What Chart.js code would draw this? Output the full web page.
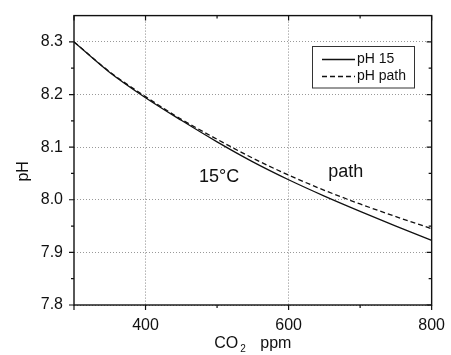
<!DOCTYPE html>
<html><head><meta charset="utf-8">
<script src="https://cdn.jsdelivr.net/npm/chart.js@4/dist/chart.umd.min.js"></script>
<style>html,body{margin:0;padding:0;background:#fff}#wrap{width:451px;height:355px}</style>
</head><body><div id="wrap"><canvas id="c" width="451" height="355"></canvas></div>
<script>
const co2 = [300, 350, 400, 450, 500, 550, 600, 650, 700, 750, 800];
const phT15 = [8.300, 8.242, 8.194, 8.151, 8.110, 8.072, 8.038, 8.007, 7.978, 7.950, 7.923];
const phPath = [8.300, 8.243, 8.196, 8.153, 8.115, 8.079, 8.047, 8.018, 7.992, 7.968, 7.945];
const seriesLabels = ['pH 15', 'pH path'];
const xTicks = [400, 600, 800];
const xMinor = [500, 700];
const yTicks = [7.8, 7.9, 8.0, 8.1, 8.2, 8.3];
const yMinor = [7.85, 7.95, 8.05, 8.15, 8.25];
const notes = [{text: '15°C', x: 503, y: 8.034}, {text: 'path', x: 680, y: 8.044}];
const xTitle = ['CO', '2', 'ppm'];
const yTitle = 'pH';

const FONT = "'Liberation Sans', Arial, sans-serif";
const INK = '#111';

const overlay = {
  id: 'overlay',
  afterDraw(chart) {
    const ctx = chart.ctx, a = chart.chartArea;
    const xs = chart.scales.x, ys = chart.scales.y;
    ctx.save();
    ctx.strokeStyle = INK; ctx.fillStyle = INK;
    // frame
    ctx.lineWidth = 1.4;
    ctx.setLineDash([]);
    ctx.strokeRect(a.left, a.top, a.right - a.left, a.bottom - a.top);
    // ticks
    ctx.lineWidth = 1.2;
    ctx.beginPath();
    const yT = (v, L) => { const p = ys.getPixelForValue(v);
      ctx.moveTo(a.left - L, p); ctx.lineTo(a.left, p);
      ctx.moveTo(a.right - L, p); ctx.lineTo(a.right, p); };
    yTicks.forEach(v => yT(v, 5));
    yMinor.forEach(v => yT(v, 3));
    const xT = (v, L) => { const p = xs.getPixelForValue(v);
      ctx.moveTo(p, a.bottom); ctx.lineTo(p, a.bottom + L);
      ctx.moveTo(p, a.top); ctx.lineTo(p, a.top + L); };
    [300].concat(xTicks).forEach(v => xT(v, 5));
    xMinor.forEach(v => xT(v, 3));
    ctx.stroke();
    // annotations
    ctx.font = '18px ' + FONT;
    ctx.textAlign = 'center'; ctx.textBaseline = 'alphabetic';
    notes.forEach(n => ctx.fillText(n.text, xs.getPixelForValue(n.x), ys.getPixelForValue(n.y)));
    // legend
    ctx.lineWidth = 1;
    ctx.strokeStyle = '#333';
    ctx.strokeRect(312.5, 46.5, 102, 41.5);
    ctx.font = '14px ' + FONT;
    ctx.textAlign = 'left'; ctx.textBaseline = 'middle';
    chart.data.datasets.forEach((ds, i) => {
      const yy = 59.5 + i * 17;
      ctx.strokeStyle = ds.borderColor; ctx.lineWidth = ds.borderWidth;
      ctx.setLineDash(ds.borderDash || []);
      ctx.beginPath(); ctx.moveTo(322, yy); ctx.lineTo(355, yy); ctx.stroke();
      ctx.setLineDash([]);
      ctx.fillText(ds.label, 357, yy);
    });
    // axis titles
    ctx.font = '16px ' + FONT;
    ctx.textAlign = 'left'; ctx.textBaseline = 'alphabetic';
    const w1 = ctx.measureText(xTitle[0]).width;
    ctx.font = '16px ' + FONT;
    const w3 = ctx.measureText(xTitle[2]).width;
    const total = w1 + 22 + w3;
    let x0 = (a.left + a.right) / 2 - total / 2;
    const base = 348;
    ctx.fillText(xTitle[0], x0, base);
    ctx.font = '10px ' + FONT;
    ctx.fillText(xTitle[1], x0 + w1 + 2, base + 4);
    ctx.font = '16px ' + FONT;
    ctx.fillText(xTitle[2], x0 + w1 + 22, base);
    ctx.save();
    ctx.translate(28, (a.top + a.bottom) / 2 + 11);
    ctx.rotate(-Math.PI / 2);
    ctx.textAlign = 'center';
    ctx.fillText(yTitle, 0, 0);
    ctx.restore();
    ctx.restore();
  }
};

new Chart(document.getElementById('c'), {
  type: 'line',
  data: {
    datasets: [
      {label: seriesLabels[0], data: co2.map((x, i) => ({x, y: phT15[i]})),
       borderColor: INK, borderWidth: 1.3, pointRadius: 0, tension: 0.4, cubicInterpolationMode: 'monotone'},
      {label: seriesLabels[1], data: co2.map((x, i) => ({x, y: phPath[i]})),
       borderColor: INK, borderWidth: 1.3, borderDash: [5, 3], pointRadius: 0, tension: 0.4, cubicInterpolationMode: 'monotone'}
    ]
  },
  options: {
    responsive: false, animation: false,
    layout: {padding: {top: 12, right: 14, left: 0, bottom: 0}},
    plugins: {legend: {display: false}, tooltip: {enabled: false}},
    scales: {
      x: {
        type: 'linear', min: 300, max: 800,
        afterBuildTicks: s => { s.ticks = xTicks.map(v => ({value: v})); },
        afterFit: s => { s.height = 50; },
        ticks: {font: {family: FONT, size: 16}, color: INK, padding: 6, maxRotation: 0, autoSkip: false},
        grid: {color: '#888', lineWidth: 1, drawTicks: true, tickLength: 5, tickColor: 'rgba(0,0,0,0)'},
        border: {display: false, dash: [1, 2]}
      },
      y: {
        min: 7.8, max: 8.35,
        afterBuildTicks: s => { s.ticks = yTicks.map(v => ({value: v})); },
        afterFit: s => { s.width = 74; },
        ticks: {font: {family: FONT, size: 16}, color: INK, padding: 6, autoSkip: false,
                callback: v => Number(v).toFixed(1)},
        grid: {color: '#999', lineWidth: 1, drawTicks: true, tickLength: 5, tickColor: 'rgba(0,0,0,0)'},
        border: {display: false, dash: [1, 2]}
      }
    }
  },
  plugins: [overlay]
});
</script>
</body></html>
